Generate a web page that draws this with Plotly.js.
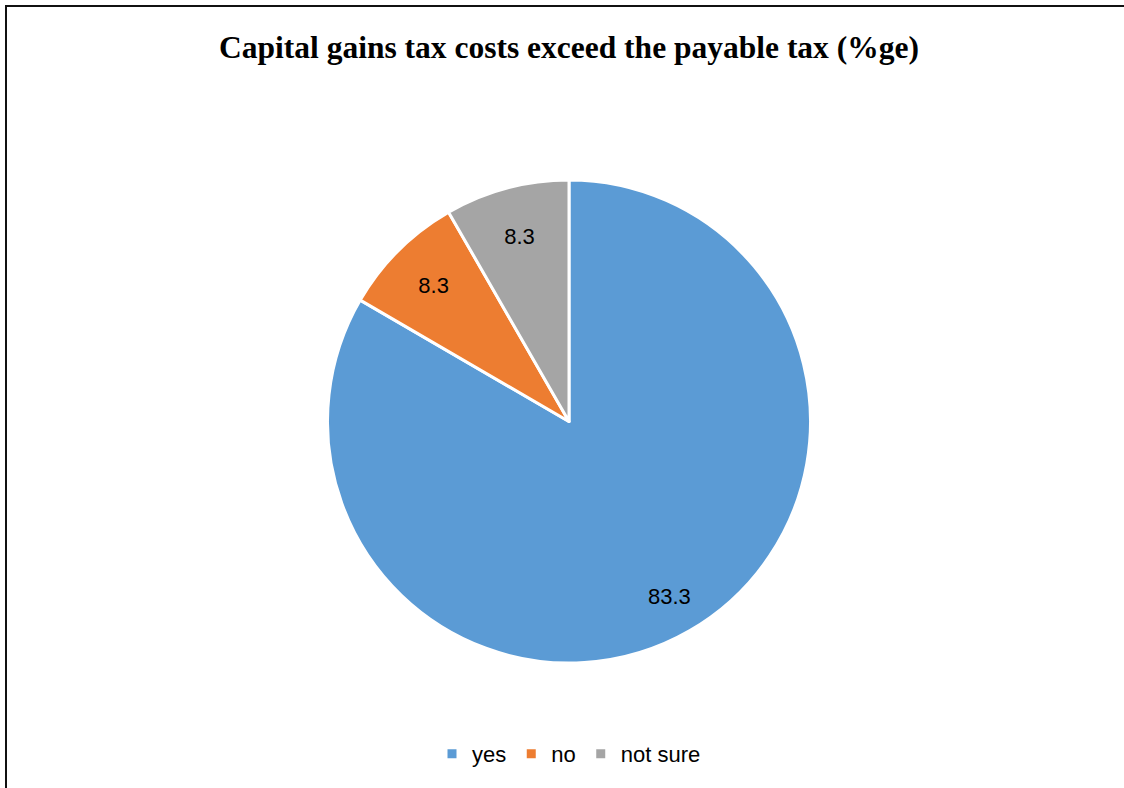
<!DOCTYPE html>
<html>
<head>
<meta charset="utf-8">
<script src="https://cdn.plot.ly/plotly-3.0.1.min.js"></script>
<style>
  html, body { margin: 0; padding: 0; background: #fff; }
  #wrap { position: relative; width: 1124px; height: 788px; overflow: hidden; }
  #chart { position: absolute; left: 0; top: 0; width: 1124px; height: 788px; }
  #frame { position: absolute; left: 5px; top: 5px; width: 1200px; height: 900px;
           border-top: 2px solid #111; border-left: 2px solid #111; pointer-events: none; }
</style>
</head>
<body>
<div id="wrap">
  <div id="chart"></div>
  <div id="frame"></div>
</div>
<script>
const categories = ["yes", "no", "not sure"];
const values = [83.3, 8.3, 8.3];
const colors = ["#5B9BD5", "#ED7D31", "#A5A5A5"];
const chartTitle = "Capital gains tax costs exceed the payable tax (%ge)";

const labelFont = "'Liberation Sans', Arial, sans-serif";
const labelSize = 22;

// Large slices get their label placed further out (like the original's best-fit labels)
const bigLabelRadius = 0.84;
const total = values.reduce((a, b) => a + b, 0);

const margin = { l: 14, r: 0, t: 180, b: 125 };
const W = 1124, H = 788;
const domW = W - margin.l - margin.r, domH = H - margin.t - margin.b;
const R = Math.min(domW, domH) / 2 - 1.5;

const annotations = [];
const texts = [];
let cum = 0;
values.forEach((v, i) => {
  const frac = v / total;
  const mid = (cum + frac / 2) * 2 * Math.PI; // clockwise from 12 o'clock
  cum += frac;
  if (frac > 0.5) {
    texts.push("");
    const dx = Math.sin(mid) * R * bigLabelRadius;
    const dy = Math.cos(mid) * R * bigLabelRadius;
    annotations.push({
      xref: "paper", yref: "paper",
      x: 0.5 + dx / domW, y: 0.5 + dy / domH,
      xanchor: "center", yanchor: "middle",
      text: v.toFixed(1), showarrow: false,
      font: { family: labelFont, size: labelSize, color: "#000000" }
    });
  } else {
    texts.push(v.toFixed(1));
  }
});

const trace = {
  type: "pie",
  labels: categories,
  values: values,
  sort: false,
  direction: "clockwise",
  rotation: 0,
  marker: { colors: colors, line: { color: "#ffffff", width: 3 } },
  text: texts,
  textinfo: "text",
  textposition: "inside",
  insidetextorientation: "horizontal",
  insidetextfont: { family: labelFont, size: labelSize, color: "#000000" },
  hoverinfo: "label+value"
};

const layout = {
  width: W,
  height: H,
  margin: margin,
  paper_bgcolor: "#ffffff",
  title: {
    text: "<b>" + chartTitle + "</b>",
    font: { family: "'Liberation Serif', 'Times New Roman', serif", size: 31.5, color: "#000000" },
    x: 0.5, xanchor: "center", xref: "paper",
    y: 1 - 47 / 788, yanchor: "middle", yref: "container"
  },
  annotations: annotations,
  showlegend: true,
  legend: {
    orientation: "h",
    x: 0.5, xanchor: "center",
    y: (H - margin.b - 754) / domH, yanchor: "middle",
    font: { family: labelFont, size: 22, color: "#000000" },
    traceorder: "normal"
  }
};

Plotly.newPlot("chart", [trace], layout, { displayModeBar: false, staticPlot: true });
</script>
</body>
</html>
